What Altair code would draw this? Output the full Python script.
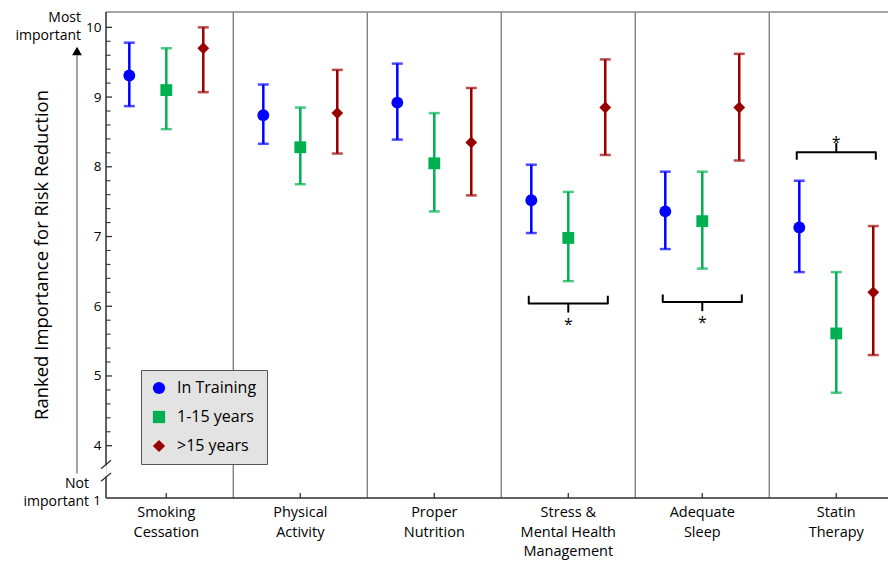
import altair as alt
import pandas as pd

# ---------------- data ----------------
groups = ["Smoking\nCessation", "Physical\nActivity", "Proper\nNutrition",
          "Stress &\nMental Health\nManagement", "Adequate\nSleep", "Statin\nTherapy"]
series = ["In Training", "1-15 years", ">15 years"]
colors = ["#0000ff", "#00b050", "#9b0000"]
shapes = ["circle", "square", "diamond"]

train_mean = [9.31, 8.74, 8.92, 7.52, 7.36, 7.13]
train_lo = [8.87, 8.33, 8.39, 7.05, 6.82, 6.49]
train_hi = [9.78, 9.18, 9.48, 8.03, 7.93, 7.80]

mid_mean = [9.10, 8.28, 8.05, 6.98, 7.22, 5.61]
mid_lo = [8.54, 7.75, 7.36, 6.36, 6.54, 4.76]
mid_hi = [9.70, 8.85, 8.77, 7.64, 7.93, 6.49]

senior_mean = [9.70, 8.77, 8.35, 8.85, 8.85, 6.20]
senior_lo = [9.07, 8.19, 7.59, 8.17, 8.09, 5.30]
senior_hi = [10.00, 9.39, 9.13, 9.54, 9.62, 7.15]

# significance brackets: group position (1-based), bracket level, side (+1 = star below)
bracket_group = [4, 5, 6]
bracket_level = [6.04, 6.06, 8.21]
bracket_side = [1, 1, -1]

major_ticks = [4, 5, 6, 7, 8, 9, 10]
minor_ticks = [round(4 + 0.2 * i, 1) for i in range(31) if i % 5 != 0]

# ---------------- layout constants ----------------
W, H = 782, 486
DODGE = [-0.276, 0.0, 0.276]
FONT = "Open Sans"

xs = alt.Scale(domain=[0.55, 6.386], nice=False, zero=False)
ys = alt.Scale(domain=[3.25, 10.22], nice=False, zero=False)
yaxis = alt.Axis(values=major_ticks, ticks=False, domain=False, grid=False,
                 labelPadding=5, labelFontSize=13.5, labelColor="black",
                 labelFont=FONT, title=None)

legend_obj = alt.Legend(orient="none", legendX=35, legendY=358, title=None,
                        fillColor="#e3e3e3", strokeColor="#555555",
                        padding=10, labelFontSize=16, labelFont=FONT,
                        labelColor="black", symbolSize=150, symbolOpacity=1,
                        rowPadding=13, labelOffset=10,
                        symbolStrokeWidth=0)
cscale = alt.Scale(domain=series, range=colors)

rows = []
all_vals = [(train_mean, train_lo, train_hi), (mid_mean, mid_lo, mid_hi),
            (senior_mean, senior_lo, senior_hi)]
for si, (m, lo, hi) in enumerate(all_vals):
    for gi in range(len(groups)):
        rows.append({"series": series[si], "x": gi + 1 + DODGE[si],
                     "mean": m[gi], "lo": lo[gi], "hi": hi[gi]})
df = pd.DataFrame(rows)

color_enc = alt.Color("series:N", scale=cscale, legend=legend_obj)

bars = alt.Chart(df).mark_rule(strokeWidth=2.5).encode(
    x=alt.X("x:Q", scale=xs, axis=None),
    y=alt.Y("lo:Q", scale=ys, axis=yaxis),
    y2="hi:Q",
    color=color_enc,
)
cap_lo = alt.Chart(df).mark_tick(orient="horizontal", size=11, thickness=2.5).encode(
    x=alt.X("x:Q", scale=xs, axis=None),
    y=alt.Y("lo:Q", scale=ys, axis=yaxis),
    color=color_enc,
)
cap_hi = alt.Chart(df).mark_tick(orient="horizontal", size=11, thickness=2.5).encode(
    x=alt.X("x:Q", scale=xs, axis=None),
    y=alt.Y("hi:Q", scale=ys, axis=yaxis),
    color=color_enc,
)
points = alt.Chart(df).mark_point(filled=True, opacity=1, size=140).encode(
    x=alt.X("x:Q", scale=xs, axis=None),
    y=alt.Y("mean:Q", scale=ys, axis=yaxis),
    color=color_enc,
    shape=alt.Shape("series:N", scale=alt.Scale(domain=series, range=shapes),
                    legend=legend_obj),
)

# ---------------- frame / axes drawn as rules ----------------
sep_df = pd.DataFrame({"x": [1.5, 2.5, 3.5, 4.5, 5.5]})
separators = alt.Chart(sep_df).mark_rule(color="#808080", strokeWidth=1.4).encode(
    x=alt.X("x:Q", scale=xs, axis=None), y=alt.value(0), y2=alt.value(H))

top_border = alt.Chart(pd.DataFrame({"a": [0]})).mark_rule(color="#8c8c8c", strokeWidth=1.5).encode(
    x=alt.value(0), x2=alt.value(W), y=alt.value(0))
bottom_axis = alt.Chart(pd.DataFrame({"a": [0]})).mark_rule(color="#333333", strokeWidth=1.5).encode(
    x=alt.value(0), x2=alt.value(W), y=alt.value(H))

left_df = pd.DataFrame({"y1": [3.25, 3.72], "y2": [3.56, 10.22]})
left_axis = alt.Chart(left_df).mark_rule(color="#333333", strokeWidth=1.5).encode(
    x=alt.value(0), y=alt.Y("y1:Q", scale=ys, axis=yaxis), y2="y2:Q")

brk_df = pd.DataFrame({"ya": [3.49, 3.67], "yb": [3.61, 3.79]})
breaks = alt.Chart(brk_df).mark_rule(color="#333333", strokeWidth=1.3).encode(
    x=alt.value(-5), x2=alt.value(5),
    y=alt.Y("ya:Q", scale=ys, axis=yaxis), y2="yb:Q")

maj_df = pd.DataFrame({"v": major_ticks})
min_df = pd.DataFrame({"v": minor_ticks})
maj_rules = alt.Chart(maj_df).mark_rule(color="#333333", strokeWidth=1.3).encode(
    x=alt.value(0), x2=alt.value(6), y=alt.Y("v:Q", scale=ys, axis=yaxis))
min_rules = alt.Chart(min_df).mark_rule(color="#333333", strokeWidth=1.1).encode(
    x=alt.value(0), x2=alt.value(4.5), y=alt.Y("v:Q", scale=ys, axis=yaxis))

xt_df = pd.DataFrame({"x": list(range(1, len(groups) + 1)), "label": groups})
x_ticks = alt.Chart(xt_df).mark_rule(color="#333333", strokeWidth=1.3).encode(
    x=alt.X("x:Q", scale=xs, axis=None), y=alt.value(H), y2=alt.value(H - 5))
x_labels = alt.Chart(xt_df).mark_text(baseline="top", align="center", fontSize=14.5,
                                      font=FONT, lineBreak="\n", lineHeight=19.5,
                                      color="black").encode(
    x=alt.X("x:Q", scale=xs, axis=None), y=alt.value(H + 8), text="label:N")

# ---------------- y-axis annotations ----------------
one_df = pd.DataFrame({"v": [3.25], "t": ["1"]})
one_label = alt.Chart(one_df).mark_text(align="right", baseline="middle", fontSize=13.5,
                                        font=FONT, color="black", dy=3).encode(
    x=alt.value(-5), y=alt.Y("v:Q", scale=ys, axis=yaxis), text="t:N")

not_df = pd.DataFrame({"v": [3.25], "t": ["Not\nimportant"]})
not_label = alt.Chart(not_df).mark_text(align="right", baseline="top", fontSize=14,
                                        font=FONT, color="black", lineBreak="\n",
                                        lineHeight=17.5, dy=-21).encode(
    x=alt.value(-17), y=alt.Y("v:Q", scale=ys, axis=yaxis), text="t:N")

most_df = pd.DataFrame({"t": ["Most\nimportant"]})
most_label = alt.Chart(most_df).mark_text(align="right", baseline="top", fontSize=14,
                                          font=FONT, color="black", lineBreak="\n",
                                          lineHeight=17.5).encode(
    x=alt.value(-25), y=alt.value(-1), text="t:N")

arrow_df = pd.DataFrame({"y1": [3.6], "y2": [9.6]})
arrow_line = alt.Chart(arrow_df).mark_rule(color="#8c8c8c", strokeWidth=1.6).encode(
    x=alt.value(-29), y=alt.Y("y1:Q", scale=ys, axis=yaxis), y2="y2:Q")
arrow_head = alt.Chart(pd.DataFrame({"v": [9.66]})).mark_point(
    shape="triangle-up", filled=True, color="black", size=95, opacity=1).encode(
    x=alt.value(-29), y=alt.Y("v:Q", scale=ys, axis=yaxis))

title_df = pd.DataFrame({"t": ["Ranked Importance for Risk Reduction"]})
y_title = alt.Chart(title_df).mark_text(angle=270, align="center", baseline="middle",
                                        fontSize=18.5, font=FONT, color="black").encode(
    x=alt.value(-64), y=alt.value(H / 2), text="t:N")

# ---------------- significance brackets ----------------
HALF = 0.295
brows, srows = [], []
for bi, (g, lvl, side) in enumerate(zip(bracket_group, bracket_level, bracket_side)):
    hook = 0.11 * side
    for o, (px, py) in enumerate([(g - HALF, lvl + hook), (g - HALF, lvl),
                                  (g + HALF, lvl), (g + HALF, lvl + hook)]):
        brows.append({"b": f"m{bi}", "o": o, "x": px, "y": py})
    for o, (px, py) in enumerate([(g, lvl), (g, lvl - 0.13 * side)]):
        brows.append({"b": f"t{bi}", "o": o, "x": px, "y": py})
    srows.append({"x": g, "y": lvl - (0.25 if side > 0 else 0.19) * side, "t": "*"})
br_df = pd.DataFrame(brows)
star_df = pd.DataFrame(srows)
brackets = alt.Chart(br_df).mark_line(color="black", strokeWidth=2, strokeJoin="round").encode(
    x=alt.X("x:Q", scale=xs, axis=None), y=alt.Y("y:Q", scale=ys, axis=yaxis),
    detail="b:N", order="o:Q")
stars = alt.Chart(star_df).mark_text(fontSize=16, font=FONT, color="black",
                                     baseline="middle", dy=4).encode(
    x=alt.X("x:Q", scale=xs, axis=None), y=alt.Y("y:Q", scale=ys, axis=yaxis), text="t:N")

chart = alt.layer(
    separators, top_border, bottom_axis, left_axis, breaks, maj_rules, min_rules,
    x_ticks, x_labels, one_label, not_label, most_label, arrow_line, arrow_head, y_title,
    brackets, stars, bars, cap_lo, cap_hi, points,
).properties(
    width=W, height=H,
    padding={"left": 98, "top": 4, "right": 0, "bottom": 62},
    autosize=alt.AutoSizeParams(type="none"),
).configure_view(stroke=None).configure(font=FONT)

chart.save("out.html", embed_options={"renderer": "svg", "actions": False})
